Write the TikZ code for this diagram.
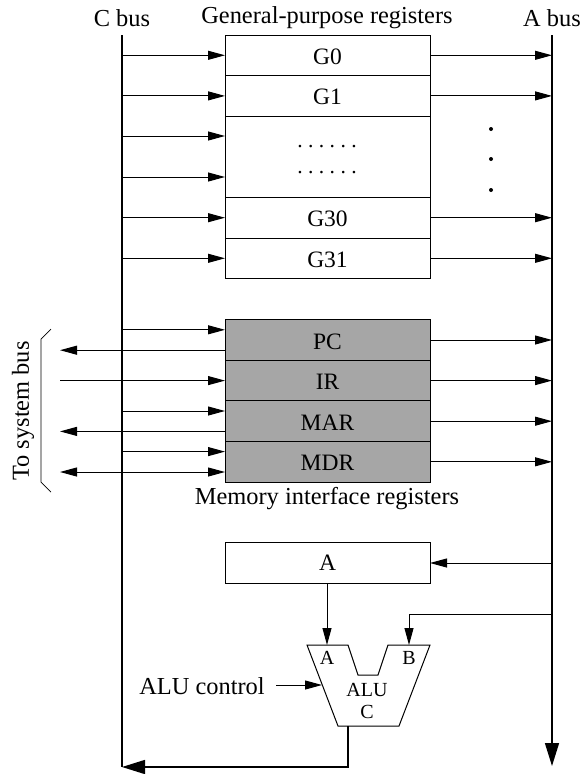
\documentclass[tikz,border=0pt]{standalone}
\usepackage{fontspec}
\setmainfont{Liberation Serif}
\usetikzlibrary{arrows.meta,positioning,calc}
\definecolor{regfill}{RGB}{166,166,166}

\begin{document}
\frenchspacing
\begin{tikzpicture}[
    x=1pt,y=-1pt,
    reg/.style={draw,line width=1pt,outer sep=0pt,minimum width=205pt,minimum height=40.6pt,inner sep=0pt,text height=18pt,text depth=0pt,font=\fontsize{23.5}{26}\selectfont},
    memreg/.style={reg,fill=regfill},
    lbl/.style={inner sep=0pt,font=\fontsize{24.4}{26}\selectfont},
    alulbl/.style={inner sep=0pt,font=\fontsize{20}{22}\selectfont},
    bus/.style={line width=1.5pt},
    link/.style={line width=1pt,-{Triangle[length=17pt,width=9pt]}},
    bigarrow/.style={line width=1.5pt,-{Triangle[length=23pt,width=14pt]}}
]
\useasboundingbox (0,0) rectangle (583,774);

% buses
\coordinate (ctop) at (122,35);
\coordinate (cbot) at (122,767);
\coordinate (atop) at (552,35);
\coordinate (abot) at (552,766);
\coordinate (sys) at (60,400);
\draw[bus] (ctop) -- (cbot);
\draw[bigarrow] (atop) -- (abot);
\node[lbl] (clabel) at (122,18) {C bus};
\node[lbl] (alabel) at (552,18) {A bus};

% general-purpose registers
\node[lbl] (gptitle) at (327,18) {General-purpose registers};
\node[reg] (g0) at (327.5,55.3) {G0};
\node[reg,below=0pt of g0] (g1) {G1};
\node[reg,below=0pt of g1,minimum height=81.2pt] (gdots) {};
\node[reg,below=0pt of gdots] (g30) {G30};
\node[reg,below=0pt of g30] (g31) {G31};
\node[lbl,font=\fontsize{21.6}{24}\selectfont] (dotsa) at (327,147) {. . . . . .};
\node[lbl,font=\fontsize{21.6}{24}\selectfont] (dotsb) at (327,172.5) {. . . . . .};

\foreach \r in {g0,g1,g30,g31} {
    \draw[link] (ctop|-\r.west) -- (\r.west);
    \draw[link] (\r.east) -- (atop|-\r.east);
}
\draw[link] (ctop|-0,136) -- (gdots.west|-0,136);
\draw[link] (ctop|-0,177) -- (gdots.west|-0,177);
\foreach \y in {129,159,190} {
    \fill (491,\y) circle (2pt);
}

% memory interface registers
\node[memreg] (pc) at (327.5,340) {PC};
\node[memreg,below=0pt of pc] (ir) {IR};
\node[memreg,below=0pt of ir] (mar) {MAR};
\node[memreg,below=0pt of mar] (mdr) {MDR};
\node[lbl] (memtitle) at (327,499) {Memory interface registers};

\foreach \r in {pc,ir,mar,mdr} {
    \draw[link] (\r.east) -- (atop|-\r.east);
}
\foreach \r in {pc,mar,mdr} {
    \draw[link] ($(ctop|-\r.west)+(0,-10.2)$) -- ($(\r.west)+(0,-10.2)$);
}
\draw[link] (sys|-ir.west) -- (ir.west);
\draw[link] ($(pc.west)+(0,10.2)$) -- ($(sys|-pc.west)+(0,10.2)$);
\draw[link] ($(mar.west)+(0,10.2)$) -- ($(sys|-mar.west)+(0,10.2)$);
\draw[link,{Triangle[length=17pt,width=9pt]}-{Triangle[length=17pt,width=9pt]}] ($(sys|-mdr.west)+(0,10.2)$) -- ($(mdr.west)+(0,10.2)$);

% system bus bracket
\draw[line width=0.7pt] (51,329) -- (41,339) -- (41,482) -- (51,492);
\node[lbl,rotate=90] (syslabel) at (23,411) {To system bus};

% register A and ALU
\node[reg,text height=15.5pt] (rega) at (327.5,563) {A};
\draw[line width=1pt] (307,645) -- (348,645) -- (358,675) -- (378,675) -- (388,645) -- (430,645) -- (399,726) -- (338,726) -- cycle;
\coordinate (aluin) at (327,645);
\coordinate (aluinb) at (409,645);
\coordinate (aluout) at (348,726);
\coordinate (aluctl) at (322,685);
\node[alulbl] (alua) at (327,658) {A};
\node[alulbl] (alub) at (409,658) {B};
\node[alulbl] (alutxt) at (367,690) {ALU};
\node[alulbl] (aluc) at (367,712) {C};
\node[lbl] (ctltxt) at (202,686) {ALU control};

\draw[link] (rega.south-|aluin) -- (aluin);
\draw[link] (atop|-rega.east) -- (rega.east);
\draw[link] (atop|-0,614) -- (409,614) -- (aluinb);
\draw[link] (276,685) -- (aluctl);
\draw[bigarrow] (aluout) |- (cbot);
\end{tikzpicture}
\end{document}
